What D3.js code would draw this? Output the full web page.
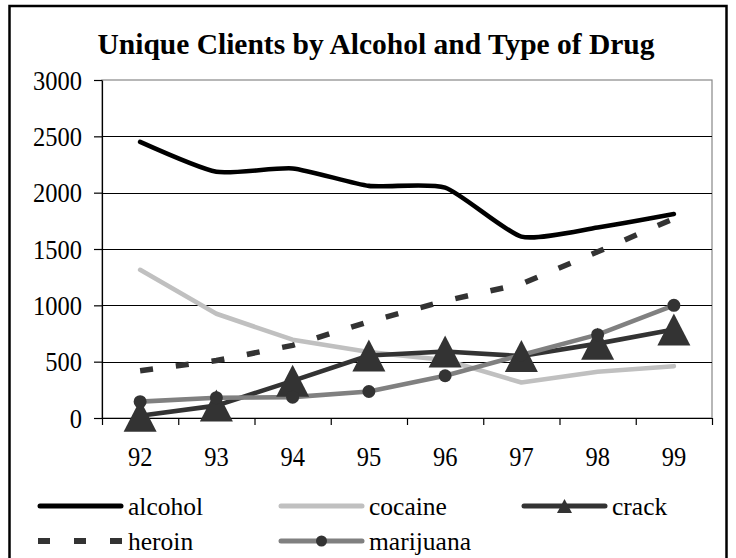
<!DOCTYPE html>
<html>
<head>
<meta charset="utf-8">
<script src="https://cdn.jsdelivr.net/npm/d3@7/dist/d3.min.js"></script>
<style>
  html, body { margin: 0; padding: 0; background: #fff; }
  svg { display: block; }
</style>
</head>
<body>
<svg id="chart" width="736" height="558"></svg>
<script>
// Unique clients per year, by substance
const years = ["92", "93", "94", "95", "96", "97", "98", "99"];
const alcohol   = [2450, 2185, 2215, 2060, 2045, 1610, 1690, 1810];
const cocaine   = [1315, 925, 695, 585, 515, 315, 410, 460];
const crack     = [20, 110, 330, 555, 590, 550, 660, 785];
const heroin    = [420, 510, 645, 855, 1040, 1190, 1475, 1770];
const marijuana = [145, 180, 185, 235, 375, 560, 740, 1000];
const yTicks = [0, 500, 1000, 1500, 2000, 2500, 3000];
const titleText = "Unique Clients by Alcohol and Type of Drug";

const FONT = '"Liberation Serif"';

const series = [
  { name: "alcohol",   values: alcohol,   color: "#000000", width: 4.6, curve: d3.curveCardinal.tension(0.4) },
  { name: "cocaine",   values: cocaine,   color: "#c0c0c0", width: 4.6 },
  { name: "crack",     values: crack,     color: "#333333", width: 4.6, marker: "triangle" },
  { name: "heroin",    values: heroin,    color: "#333333", width: 5.5, dash: "13,23" },
  { name: "marijuana", values: marijuana, color: "#808080", width: 4.6, marker: "circle", markerColor: "#333333" }
];

const svg = d3.select("#chart");
const plotL = 102, plotR = 712, plotT = 80, plotB = 418;

const x = d3.scaleBand().domain(years).range([plotL, plotR]).padding(0);
const cx = d => x(d) + x.bandwidth() / 2;
const y = d3.scaleLinear().domain([0, 3000]).range([plotB, plotT]);

// outer frame
svg.append("rect")
  .attr("x", 9.5).attr("y", 6).attr("width", 717).attr("height", 620)
  .attr("fill", "none").attr("stroke", "#000").attr("stroke-width", 2.5);

// title
svg.append("text")
  .attr("x", 376).attr("y", 54)
  .attr("text-anchor", "middle")
  .style("font-family", FONT)
  .style("font-size", "29.5px").style("font-weight", "bold")
  .attr("fill", "#000")
  .text(titleText);

// plot area border
svg.append("rect")
  .attr("x", plotL).attr("y", plotT)
  .attr("width", plotR - plotL).attr("height", plotB - plotT)
  .attr("fill", "none").attr("stroke", "#888").attr("stroke-width", 1.2);

// horizontal gridlines
svg.append("g").selectAll("line")
  .data(yTicks.filter(v => v > 0 && v < 3000))
  .join("line")
  .attr("x1", plotL).attr("x2", plotR)
  .attr("y1", d => Math.round(y(d)) + 0.5).attr("y2", d => Math.round(y(d)) + 0.5)
  .attr("stroke", "#000").attr("stroke-width", 1);

// y axis (labels slightly tall, as in the printed chart)
const yAxis = svg.append("g")
  .attr("transform", `translate(${plotL},0)`)
  .call(d3.axisLeft(y).tickValues(yTicks).tickFormat(d3.format("d"))
    .tickSize(8).tickSizeOuter(0).tickPadding(12));
yAxis.selectAll("text").attr("dy", "0.34em").attr("fill", "#000")
  .attr("transform", "scale(1,1.1)")
  .style("font-family", FONT).style("font-size", "24.5px");
yAxis.selectAll("line,path").attr("stroke", "#000").attr("stroke-width", 1.2);

// x axis: tick marks at category boundaries
const edge = d3.scaleLinear().domain([0, years.length]).range([plotL, plotR]);
const xTicks = svg.append("g")
  .attr("transform", `translate(0,${plotB})`)
  .call(d3.axisBottom(edge).tickValues(d3.range(years.length + 1)).tickFormat("")
    .tickSize(7).tickSizeOuter(0));
xTicks.selectAll("line,path").attr("stroke", "#000").attr("stroke-width", 1.2);

// x axis: category labels
const xLabels = svg.append("g")
  .attr("transform", `translate(0,${plotB})`)
  .call(d3.axisBottom(x).tickSize(0).tickPadding(26));
xLabels.select("path").remove();
xLabels.selectAll("text").attr("fill", "#000")
  .attr("transform", "scale(1,1.1)")
  .style("font-family", FONT).style("font-size", "24.5px");

// series lines
const lineGroup = svg.append("g");
series.forEach(s => {
  const gen = d3.line().x((d, i) => cx(years[i])).y(d => y(d)).curve(s.curve || d3.curveLinear);
  lineGroup.append("path")
    .datum(s.values)
    .attr("d", gen)
    .attr("fill", "none")
    .attr("stroke", s.color)
    .attr("stroke-width", s.width)
    .attr("stroke-linejoin", "round")
    .attr("stroke-linecap", s.dash ? "butt" : "round")
    .attr("stroke-dasharray", s.dash || null);
});

// markers
function trianglePath(w, h) {
  return `M0,${-h / 2}L${w / 2},${h / 2}L${-w / 2},${h / 2}Z`;
}
const markerGroup = svg.append("g");
series.filter(s => s.marker).forEach(s => {
  const g = markerGroup.append("g");
  if (s.marker === "triangle") {
    g.selectAll("path").data(s.values).join("path")
      .attr("d", trianglePath(33, 32))
      .attr("transform", (d, i) => `translate(${cx(years[i])},${y(d)})`)
      .attr("fill", s.color);
  } else {
    g.selectAll("circle").data(s.values).join("circle")
      .attr("cx", (d, i) => cx(years[i])).attr("cy", d => y(d))
      .attr("r", 6.5)
      .attr("fill", s.markerColor);
  }
});

// legend
const legendPos = [
  { x: 38, y: 506 }, { x: 279, y: 506 }, { x: 522, y: 506 },
  { x: 38, y: 541 }, { x: 279, y: 541 }
];
const legend = svg.append("g");
series.forEach((s, i) => {
  const p = legendPos[i];
  const g = legend.append("g").attr("transform", `translate(${p.x},${p.y})`);
  const len = 85;
  g.append("line")
    .attr("x1", s.dash ? 0 : 2).attr("x2", s.dash ? len : len - 2)
    .attr("y1", 0).attr("y2", 0)
    .attr("stroke", s.color)
    .attr("stroke-width", s.dash ? 6 : 5)
    .attr("stroke-linecap", s.dash ? "butt" : "round")
    .attr("stroke-dasharray", s.dash ? "12,24" : null);
  if (s.marker === "triangle") {
    g.append("path").attr("d", trianglePath(15, 14))
      .attr("transform", `translate(${len / 2},0)`).attr("fill", s.color);
  } else if (s.marker === "circle") {
    g.append("circle").attr("cx", len / 2).attr("cy", 0).attr("r", 5.5).attr("fill", s.markerColor);
  }
  g.append("text")
    .attr("x", len + 5).attr("y", 9)
    .style("font-family", FONT)
    .style("font-size", "25.5px")
    .attr("fill", "#000")
    .text(s.name);
});
</script>
</body>
</html>
